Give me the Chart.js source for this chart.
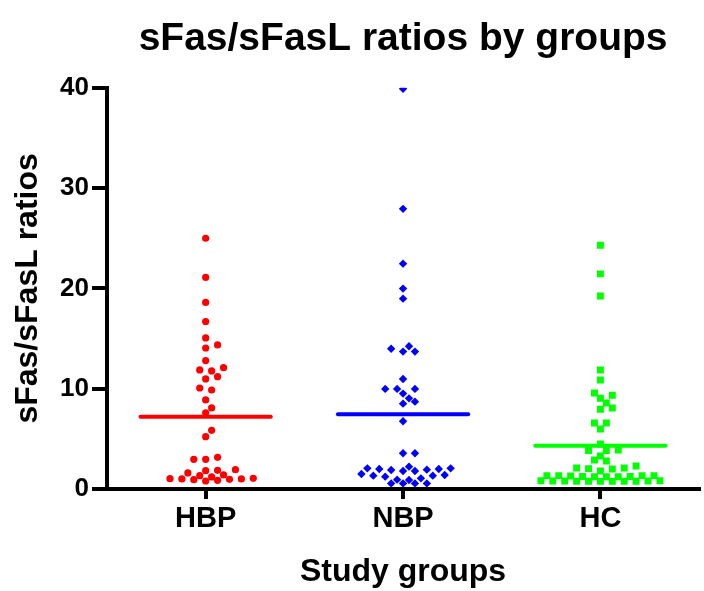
<!DOCTYPE html>
<html>
<head>
<meta charset="utf-8">
<script src="https://cdn.jsdelivr.net/npm/chart.js@4.4.1/dist/chart.umd.min.js"></script>
<style>
  html, body { margin: 0; padding: 0; background: #fff; }
  #wrap { width: 704px; height: 591px; }
</style>
</head>
<body>
<div id="wrap"><canvas id="dotChart" width="704" height="591"></canvas></div>
<script>
const groups = ['HBP', 'NBP', 'HC'];
const yTicks = [0, 10, 20, 30, 40];

const hbpValues = [0.80, 0.86, 0.93, 0.96, 1.00, 1.00, 1.03, 1.06, 1.20, 1.33, 1.40,
  1.60, 1.83, 1.86, 1.93, 2.96, 3.16, 2.96, 5.22, 5.85, 7.60, 8.08, 8.88, 9.87, 10.07,
  10.97, 11.20, 11.77, 11.87, 12.10, 12.80, 14.06, 14.36, 15.06, 16.70, 18.60, 21.10, 25.00];
const nbpValues = [0.56, 0.56, 0.56, 0.56, 0.90, 0.93, 1.06, 1.23, 1.33, 1.33, 1.40,
  1.50, 1.80, 1.80, 1.90, 1.93, 1.99, 1.99, 2.06, 2.06, 2.23, 3.56, 3.56, 6.75, 8.51,
  8.71, 9.04, 9.51, 9.98, 9.98, 9.98, 10.97, 13.70, 13.70, 13.99, 14.23, 18.98, 19.98,
  22.47, 27.93, 39.90];
const hcValues = [0.76, 0.76, 0.77, 0.77, 0.78, 0.78, 0.79, 0.79, 0.80, 0.83, 0.83,
  1.23, 1.23, 1.23, 1.24, 1.25, 1.30, 1.33, 1.33, 1.33, 1.33, 1.80, 1.99, 2.03,
  2.09, 2.09, 2.29, 2.79, 2.89, 3.29, 3.83, 3.83, 3.89, 4.49, 5.99, 6.58, 6.58, 7.95,
  8.08, 8.58, 9.04, 9.34, 9.58, 10.87, 11.87, 19.25, 21.45, 24.30];
const groupMeans = [7.21, 7.45, 4.32];

const colors = ['#ff0000', '#0000ff', '#00ff00'];
const pointStyles = ['circle', 'rectRot', 'rect'];
const pointSizes = [3.6, 4.2, 4.9];

// spread points sideways so symbols don't sit on top of each other
const slotPx = 6;
const pxPerX = 199;
const pxPerY = 10;
const gapX = 6.3;
const gapY = 10;

function swarm(values) {
  const placed = [];
  return values.map(v => {
    for (let k = 0; ; k++) {
      const step = k === 0 ? 0 : (k % 2 ? (k + 1) / 2 : -k / 2);
      const dx = step * slotPx;
      const hit = placed.some(p => {
        const a = (p.dx - dx) / gapX, b = (p.v - v) * pxPerY / gapY;
        return a * a + b * b < 1;
      });
      if (!hit) {
        placed.push({ v, dx });
        return dx / pxPerX;
      }
    }
  });
}

const allValues = [hbpValues, nbpValues, hcValues];
const datasets = [];

allValues.forEach((vals, g) => {
  const centre = g + 1;
  datasets.push({
    type: 'line',
    data: [{ x: centre - 0.33, y: groupMeans[g] }, { x: centre + 0.33, y: groupMeans[g] }],
    borderColor: colors[g],
    borderWidth: 4,
    borderCapStyle: 'round',
    pointRadius: 0,
    fill: false
  });
});

allValues.forEach((vals, g) => {
  const offs = swarm(vals);
  datasets.push({
    type: 'scatter',
    data: vals.map((v, i) => ({ x: g + 1 + offs[i], y: v })),
    backgroundColor: colors[g],
    borderColor: colors[g],
    borderWidth: 0,
    pointStyle: pointStyles[g],
    pointRadius: pointSizes[g],
    pointHoverRadius: pointSizes[g]
  });
});

Chart.defaults.font.family = "'Liberation Sans', Arial, sans-serif";
Chart.defaults.color = '#000';

new Chart(document.getElementById('dotChart'), {
  type: 'scatter',
  data: { datasets },
  options: {
    responsive: false,
    animation: false,
    layout: { padding: 0 },
    plugins: {
      legend: { display: false },
      tooltip: { enabled: false },
      title: {
        display: true,
        text: 'sFas/sFasL ratios by groups',
        color: '#000',
        fullSize: false,
        font: { size: 39, weight: 'bold' },
        padding: { top: 16, bottom: 25 }
      }
    },
    scales: {
      x: {
        type: 'linear',
        min: 0.5,
        max: 3.5,
        afterBuildTicks: s => { s.ticks = groups.map((g, i) => ({ value: i + 1 })); },
        afterFit: s => { s.height = 102; },
        ticks: {
          callback: v => groups[v - 1],
          font: { size: 29, weight: 'bold' },
          color: '#000',
          padding: 3
        },
        grid: { drawOnChartArea: false, color: '#000', lineWidth: 4, tickLength: 10 },
        border: { display: true, color: '#000', width: 4 },
        title: {
          display: true,
          text: 'Study groups',
          color: '#000',
          font: { size: 32, weight: 'bold' },
          padding: { top: 0, bottom: 0 }
        }
      },
      y: {
        min: 0,
        max: 40,
        afterBuildTicks: s => { s.ticks = yTicks.map(v => ({ value: v })); },
        afterFit: s => { s.width = 107; },
        ticks: { font: { size: 26, weight: 'bold' }, color: '#000', padding: 3 },
        grid: { drawOnChartArea: false, color: '#000', lineWidth: 4, tickLength: 15 },
        border: { display: true, color: '#000', width: 4 },
        title: {
          display: true,
          text: 'sFas/sFasL ratios',
          color: '#000',
          font: { size: 32, weight: 'bold' },
          padding: { top: 9, bottom: 0 }
        }
      }
    }
  }
});
</script>
</body>
</html>
